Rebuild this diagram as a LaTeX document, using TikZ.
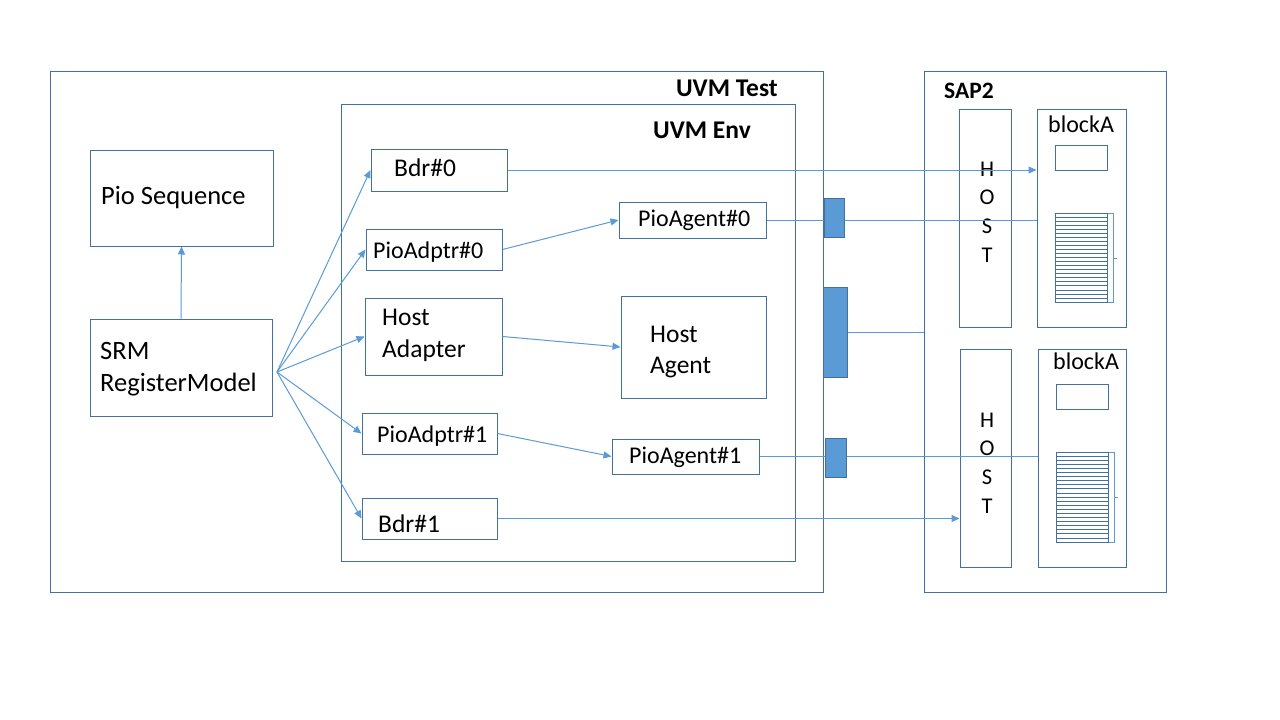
\documentclass[tikz,border=0pt]{standalone}
\usepackage{fontspec}
\setmainfont{Carlito}
\usetikzlibrary{arrows.meta,fit}
\definecolor{bordc}{HTML}{41719C}
\definecolor{linec}{HTML}{5B9BD5}
\definecolor{blufill}{HTML}{5B9BD5}
\tikzset{
 box/.style={draw=bordc, line width=1pt, inner sep=0pt, rectangle},
 conn/.style={draw=linec, line width=1pt},
 arr/.style={conn, -{Triangle[length=8pt,width=7pt]}},
 port/.style={box, fill=blufill},
 lbl/.style={anchor=base west, inner sep=0pt, font=\fontsize{26.5}{30}\selectfont},
 slbl/.style={anchor=base west, inner sep=0pt, font=\fontsize{24}{28}\selectfont},
 ttl/.style={inner sep=0pt, font=\fontsize{25.5}{30}\selectfont\bfseries},
 hostl/.style={anchor=center, inner sep=0pt, font=\fontsize{22.5}{26}\selectfont},
 stripe/.style={draw=bordc, line width=0.7pt},
 brack/.style={draw=linec, line width=0.9pt},
}
\begin{document}
\begin{tikzpicture}[x=1pt,y=-1pt]
\useasboundingbox[fill=white] (0,0) rectangle (1280,720);

% containers
\node[box, fit={(50,71) (823,592)}] (test) {};
\node[box, fit={(341,104) (795,561)}] (env) {};
\node[box, fit={(924,71) (1166,592)}] (sap) {};
\node[ttl, anchor=base east] (testlbl) at (778,96) {UVM Test};
\node[ttl, anchor=base west] (envlbl) at (653,138) {UVM Env};
\node[ttl, anchor=base west, font=\fontsize{23.5}{28}\selectfont\bfseries] (saplbl) at (944,98) {SAP2};

% left boxes
\node[box, fit={(90,150) (273,246)}] (pioseq) {};
\node[lbl] (pioseqt) at (101,204) {Pio Sequence};
\node[box, fit={(90,319) (272,416)}] (srm) {};
\node[lbl] (srmt1) at (100,359) {SRM};
\node[lbl] (srmt2) at (100,391) {RegisterModel};

% env boxes
\node[box, fit={(371,149) (507,191)}] (bdr0) {};
\node[lbl, font=\fontsize{25.5}{30}\selectfont] (bdr0t) at (394,176) {Bdr\#0};
\node[box, fit={(366,229) (502,270)}] (pa0) {};
\node[slbl] (pa0t) at (373,258) {PioAdptr\#0};
\node[box, fit={(365,298) (502,375)}] (ha) {};
\node[lbl, font=\fontsize{25.5}{30}\selectfont] (hat1) at (382,325) {Host};
\node[lbl, font=\fontsize{25.5}{30}\selectfont] (hat2) at (382,357) {Adapter};
\node[box, fit={(362,413) (497,454)}] (pa1) {};
\node[slbl] (pa1t) at (377,442) {PioAdptr\#1};
\node[box, fit={(362,498) (497,539)}] (bdr1) {};
\node[lbl, font=\fontsize{25.5}{30}\selectfont] (bdr1t) at (378,532) {Bdr\#1};

\node[box, fit={(619,202) (766,238)}] (pag0) {};
\node[slbl] (pag0t) at (638,226) {PioAgent\#0};
\node[box, fit={(621,296) (766,398)}] (hag) {};
\node[lbl, font=\fontsize{25.5}{30}\selectfont] (hagt1) at (650,342) {Host};
\node[lbl, font=\fontsize{25.5}{30}\selectfont] (hagt2) at (650,373) {Agent};
\node[box, fit={(612,439) (759,474)}] (pag1) {};
\node[slbl] (pag1t) at (629,463) {PioAgent\#1};

% SAP2 internals
\node[box, fit={(959,109) (1011,327)}] (host1) {};
\node[hostl] (h1a) at (987,169) {H};
\node[hostl] (h1b) at (987,197) {O};
\node[hostl] (h1c) at (987,226) {S};
\node[hostl] (h1d) at (987,255) {T};
\node[box, fit={(1037,109) (1126,327)}] (blka1) {};
\node[slbl] (blka1t) at (1048,132) {blockA};
\node[box, fit={(1055,145) (1107,170)}] (reg1a) {};
\node[box, fit={(1055,213) (1107,302)}] (reg1b) {};
\foreach \i in {1,...,21} \draw[stripe] (1055,{213+\i*89/22}) -- (1107,{213+\i*89/22});
\draw[brack] (1108,213) -- (1113,213) -- (1113,302) -- (1108,302);
\draw[brack] (1113,258) -- (1117,258);

\node[box, fit={(960,349) (1011,567)}] (host2) {};
\node[hostl] (h2a) at (987,420) {H};
\node[hostl] (h2b) at (987,448) {O};
\node[hostl] (h2c) at (987,477) {S};
\node[hostl] (h2d) at (987,506) {T};
\node[box, fit={(1038,349) (1126,567)}] (blka2) {};
\node[slbl] (blka2t) at (1053,369) {blockA};
\node[box, fit={(1056,384) (1108,409)}] (reg2a) {};
\node[box, fit={(1056,452) (1108,542)}] (reg2b) {};
\foreach \i in {1,...,21} \draw[stripe] (1056,{452+\i*90/22}) -- (1108,{452+\i*90/22});
\draw[brack] (1109,452) -- (1114,452) -- (1114,542) -- (1109,542);
\draw[brack] (1114,497) -- (1118,497);

% connectors
\coordinate (fan) at (277,372);
\draw[arr] (srm.north) -- (pioseq.south);
\draw[arr] (fan) -- (bdr0.west);
\draw[arr] (fan) -- (pa0.west);
\draw[arr] (fan) -- (ha.west);
\draw[arr] (fan) -- (pa1.west);
\draw[arr] (fan) -- (bdr1.west);
\draw[arr] (pa0.east) -- (pag0.west);
\draw[arr] (ha.east) -- (hag.west);
\draw[arr] (pa1.east) -- (pag1.west);
\draw[arr] (bdr0.east) -- (bdr0.east -| blka1.west);
\draw[arr] (bdr1.east) -- (bdr1.east -| host2.west);
\draw[conn] (pag0.east) -- (pag0.east -| blka1.west);
\draw[conn] (pag1.east) -- (pag1.east -| blka2.west);

% ports
\node[port, fit={(824,198) (844,237)}] (port0) {};
\node[port, fit={(823,287) (847,377)}] (porth) {};
\node[port, fit={(825,438) (846,477)}] (port1) {};
\draw[conn] (porth.east) -- (porth.east -| sap.west);
\end{tikzpicture}
\end{document}
